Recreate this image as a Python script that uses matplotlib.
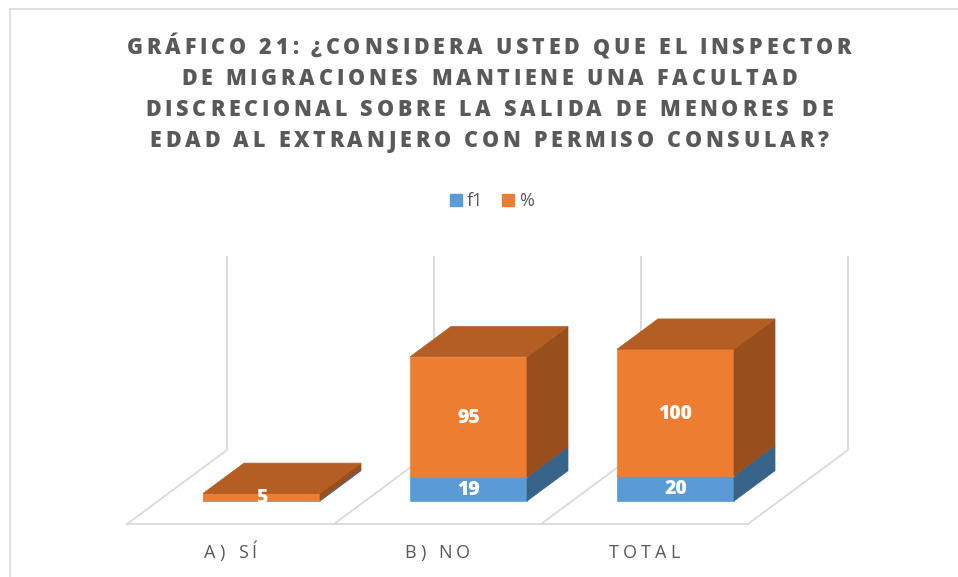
import matplotlib
matplotlib.use('Agg')
import matplotlib.pyplot as plt
from matplotlib.patches import Polygon, Rectangle
from matplotlib.font_manager import FontProperties

# data
categories = ['A) SÍ', 'B) NO', 'TOTAL']
f1 = [1, 19, 20]
pct = [5, 95, 100]
series_names = ['f1', '%']
title_lines = ['GRÁFICO 21: ¿CONSIDERA USTED QUE EL INSPECTOR',
               'DE MIGRACIONES MANTIENE UNA FACULTAD',
               'DISCRECIONAL SOBRE LA SALIDA DE MENORES DE',
               'EDAD AL EXTRANJERO CON PERMISO CONSULAR?']

# colours: front, side, top
blue = ('#5B9BD5', '#386489', '#4A7FB0')
orange = ('#ED7D31', '#994E1E', '#B45E23')
grey_txt = '#595959'
grid_c = '#D9D9D9'
FONT = 'Open Sans'

# layout (pixels)
W, H = 958, 577
FLOOR_X0, FLOOR_Y = 127, 524
CAT_W = 207
FLOOR_DX, FLOOR_DY = 100, 74
WALL_TOP = 257
BAR_W = 117
BAR_D0, BAR_D1 = 0.31, 0.72
PX_PER_UNIT = 1.265

fig = plt.figure(figsize=(W/100, H/100), dpi=100)
ax = fig.add_axes([0, 0, 1, 1])
ax.set_xlim(0, W)
ax.set_ylim(H, 0)
ax.axis('off')
r = fig.canvas.get_renderer()

def char_widths(s, prop):
    base = r.get_text_width_height_descent('HH', prop, ismath=False)[0]
    return [r.get_text_width_height_descent('H'+c+'H', prop, ismath=False)[0] - base for c in s]

def tracked(s, xc, yb, prop, color, spacing):
    ws = char_widths(s, prop)
    x = xc - (sum(ws) + spacing*(len(s)-1))/2
    for c, w in zip(s, ws):
        ax.text(x, yb, c, fontproperties=prop, color=color, ha='left', va='baseline')
        x += w + spacing

# chart border
ax.plot([10, W], [9, 9], color=grid_c, lw=1.2)
ax.plot([10, 10], [9, H], color=grid_c, lw=1.2)

# title
tprop = FontProperties(family=FONT, weight='heavy', size=15.5)
ws = char_widths(title_lines[0], tprop)
tsp = (724 - sum(ws))/(len(title_lines[0])-1)
for k, line in enumerate(title_lines):
    tracked(line, 489, 54 + 31*k, tprop, grey_txt, tsp)

# legend
lprop = FontProperties(family=FONT, size=13)
ax.add_patch(Rectangle((450, 194), 12, 12, color=blue[0]))
ax.text(467, 206, series_names[0], fontproperties=lprop, color=grey_txt, va='baseline')
ax.add_patch(Rectangle((502, 194), 12, 12, color=orange[0]))
ax.text(519, 206, series_names[1], fontproperties=lprop, color=grey_txt, va='baseline')

# floor and walls
n = len(categories)
ax.plot([FLOOR_X0, FLOOR_X0 + n*CAT_W], [FLOOR_Y, FLOOR_Y], color=grid_c, lw=1.3, zorder=1)
for i in range(n + 1):
    x0 = FLOOR_X0 + i*CAT_W
    ax.plot([x0, x0 + FLOOR_DX, x0 + FLOOR_DX], [FLOOR_Y, FLOOR_Y - FLOOR_DY, WALL_TOP],
            color=grid_c, lw=1.3, zorder=1)

# bars
dprop = FontProperties(family=FONT, weight='heavy', size=14)
ddx = (BAR_D1 - BAR_D0)*FLOOR_DX
ddy = (BAR_D1 - BAR_D0)*FLOOR_DY
for i in range(n):
    xl = FLOOR_X0 + i*CAT_W + (CAT_W - BAR_W)/2 + BAR_D0*FLOOR_DX
    xr = xl + BAR_W
    y0 = FLOOR_Y - BAR_D0*FLOOR_DY
    base = 0
    for vals, cols in ((f1, blue), (pct, orange)):
        v = vals[i]
        yb = y0 - base*PX_PER_UNIT
        yt = y0 - (base + v)*PX_PER_UNIT
        faces = [([(xl, yb), (xr, yb), (xr, yt), (xl, yt)], cols[0]),
                 ([(xr, yb), (xr+ddx, yb-ddy), (xr+ddx, yt-ddy), (xr, yt)], cols[1]),
                 ([(xl, yt), (xr, yt), (xr+ddx, yt-ddy), (xl+ddx, yt-ddy)], cols[2])]
        for pts, c in faces:
            ax.add_patch(Polygon(pts, closed=True, facecolor=c, edgecolor=c, lw=0.5, zorder=3))
        if yb - yt >= 3:
            ax.text((xl + xr)/2, (yb + yt)/2 + 1, str(v), fontproperties=dprop,
                    color='white', ha='center', va='center', zorder=5)
        base += v

# category labels
cprop = FontProperties(family=FONT, size=13)
ws = char_widths(categories[-1], cprop)
csp = (71 - sum(ws))/(len(categories[-1])-1)
for i, cat in enumerate(categories):
    tracked(cat, FLOOR_X0 + (i + 0.5)*CAT_W, 558, cprop, grey_txt, csp)

fig.savefig('out.png', dpi=100)
